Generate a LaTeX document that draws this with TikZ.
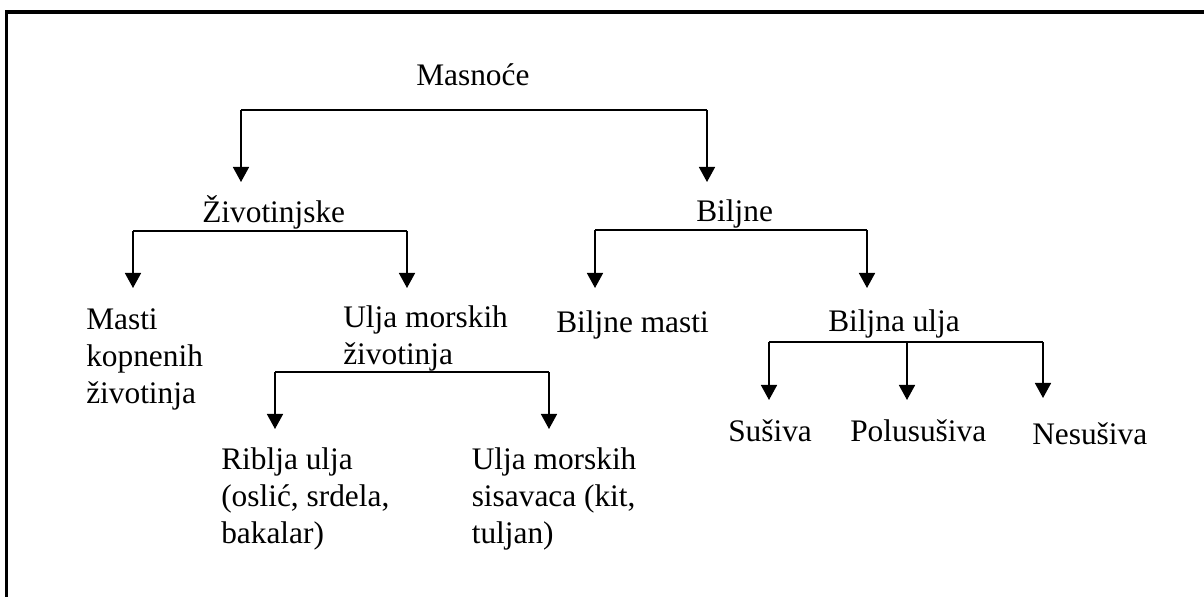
\documentclass[tikz,border=0pt]{standalone}
\usepackage{fontspec}
\setmainfont{Liberation Serif}
\usetikzlibrary{arrows.meta}

\begin{document}
\begin{tikzpicture}[x=0.025cm,y=-0.025cm,
    oznaka/.style={anchor=base west,inner sep=0pt,align=left,
      font=\fontsize{22.3}{26.3}\selectfont},
    grana/.style={line width=1.1pt},
    strelica/.style={grana,-{Triangle[width=0.4cm,length=0.375cm]}}]
  % okvir slike (samo gornji i lijevi rub)
  \useasboundingbox (0,0) rectangle (1204,597);
  \draw[line width=2.2pt] (6.5,597) -- (6.5,12) -- (1204,12);

  % tekstovi (kod vise redaka: sidro je na zadnjem retku)
  \node[oznaka] (masnoce)     at (416,85.7)  {Masnoće};
  \node[oznaka] (zivotinjske) at (202,222.7) {Životinjske};
  \node[oznaka] (biljne)      at (696,221.7) {Biljne};
  \node[oznaka] (kopnene)     at (86,403)    {Masti\\kopnenih\\životinja};
  \node[oznaka] (morske)      at (343,364)   {Ulja morskih\\životinja};
  \node[oznaka] (biljnemasti) at (556,332)   {Biljne masti};
  \node[oznaka] (biljnaulja)  at (828,331.7) {Biljna ulja};
  \node[oznaka] (riblja)      at (221,543)   {Riblja ulja\\(oslić, srdela,\\bakalar)};
  \node[oznaka] (sisavci)     at (471.5,543) {Ulja morskih\\sisavaca (kit,\\tuljan)};
  \node[oznaka] (susiva)      at (728,441.7) {Sušiva};
  \node[oznaka] (polususiva)  at (850,441)   {Polusušiva};
  \node[oznaka] (nesusiva)    at (1032,444)  {Nesušiva};

  % Masnoće -> Životinjske, Biljne
  \coordinate (m1) at (241,110);
  \coordinate (m2) at (707,110);
  \draw[grana] (m1) -- (m2);
  \draw[strelica] (m1) -- ++(0,72);
  \draw[strelica] (m2) -- ++(0,72);

  % Životinjske -> kopnene, morske
  \coordinate (z1) at (133,231);
  \coordinate (z2) at (407,231);
  \draw[grana] (z1) -- (z2);
  \draw[strelica] (z1) -- ++(0,57);
  \draw[strelica] (z2) -- ++(0,57);

  % Biljne -> masti, ulja
  \coordinate (b1) at (595,230);
  \coordinate (b2) at (867,230);
  \draw[grana] (b1) -- (b2);
  \draw[strelica] (b1) -- ++(0,58);
  \draw[strelica] (b2) -- ++(0,58);

  % Ulja morskih životinja -> riblja, sisavci
  \coordinate (u1) at (275,372);
  \coordinate (u2) at (549,372);
  \draw[grana] (u1) -- (u2);
  \draw[strelica] (u1) -- ++(0,57);
  \draw[strelica] (u2) -- ++(0,57);

  % Biljna ulja -> sušiva, polusušiva, nesušiva
  \coordinate (v1) at (769,342);
  \coordinate (v2) at (907,342);
  \coordinate (v3) at (1043,342);
  \draw[grana] (v1) -- (v3);
  \draw[strelica] (v1) -- ++(0,58);
  \draw[strelica] (v2) -- ++(0,58);
  \draw[strelica] (v3) -- ++(0,56);
\end{tikzpicture}
\end{document}
